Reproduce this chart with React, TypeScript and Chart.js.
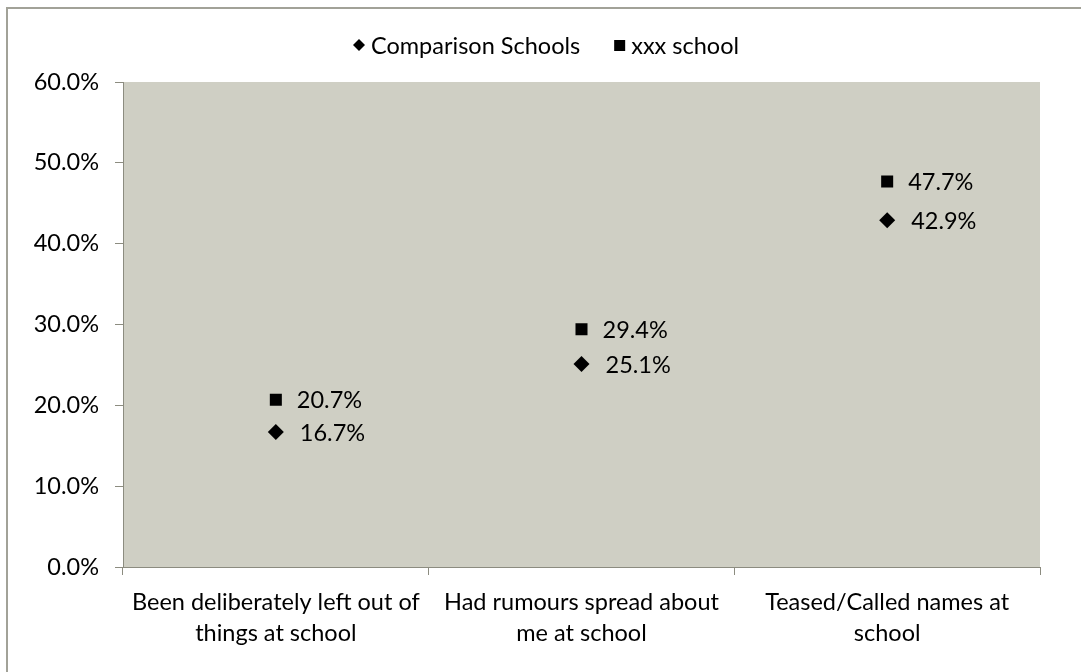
import React, { useEffect, useRef } from "react";
import { Chart, registerables } from "chart.js";

Chart.register(...registerables);

const categories: string[][] = [
  ["Been deliberately left out of", "things at school"],
  ["Had rumours spread about", "me at school"],
  ["Teased/Called names at", "school"],
];
const comparisonSchools: number[] = [16.7, 25.1, 42.9];
const xxxSchool: number[] = [20.7, 29.4, 47.7];
const seriesNames: string[] = ["Comparison Schools", "xxx school"];
const yMin = 0;
const yMax = 60;
const yStep = 10;

const FONT_FAMILY = 'Lato, "Liberation Sans", sans-serif';
const FONT_SIZE = 23.5;
const AXIS_COLOR = "#8c8c80";
const PLOT_BG = "#cfcfc4";

const plotBackground = {
  id: "plotBackground",
  beforeDraw(chart: any) {
    const { ctx, chartArea } = chart;
    ctx.save();
    ctx.fillStyle = PLOT_BG;
    ctx.fillRect(chartArea.left, chartArea.top, chartArea.right - chartArea.left, chartArea.bottom - chartArea.top);
    ctx.restore();
  },
};

const valueLabels = {
  id: "valueLabels",
  afterDatasetsDraw(chart: any) {
    const { ctx } = chart;
    ctx.save();
    ctx.font = `${FONT_SIZE}px ${FONT_FAMILY}`;
    ctx.fillStyle = "#000";
    ctx.textAlign = "left";
    ctx.textBaseline = "middle";
    chart.data.datasets.forEach((ds: any, i: number) => {
      const meta = chart.getDatasetMeta(i);
      const dx = ds.pointStyle === "rectRot" ? 24 : 21;
      meta.data.forEach((el: any, j: number) => {
        const v = ds.data[j] as number;
        ctx.fillText(`${v.toFixed(1)}%`, el.x + dx, el.y + 1);
      });
    });
    ctx.restore();
  },
};

const customLegend = {
  id: "customLegend",
  afterDraw(chart: any) {
    const { ctx } = chart;
    ctx.save();
    ctx.font = `${FONT_SIZE}px ${FONT_FAMILY}`;
    ctx.fillStyle = "#000";
    ctx.textAlign = "left";
    ctx.textBaseline = "middle";
    const y = 45;
    let x = 353;
    chart.data.datasets.forEach((ds: any) => {
      if (ds.pointStyle === "rectRot") {
        ctx.beginPath();
        ctx.moveTo(x, y);
        ctx.lineTo(x + 6, y - 6);
        ctx.lineTo(x + 12, y);
        ctx.lineTo(x + 6, y + 6);
        ctx.closePath();
        ctx.fill();
        x += 18;
      } else {
        ctx.fillRect(x, y - 5, 11, 11);
        x += 17;
      }
      ctx.fillText(ds.label, x, y + 1);
      x += ctx.measureText(ds.label).width + 34;
    });
    ctx.restore();
  },
};

export default function App() {
  const canvasRef = useRef<HTMLCanvasElement | null>(null);

  useEffect(() => {
    if (!canvasRef.current) return;
    const chart = new Chart(canvasRef.current, {
      type: "line",
      data: {
        labels: categories,
        datasets: [
          {
            label: seriesNames[0],
            data: comparisonSchools,
            showLine: false,
            pointStyle: "rectRot",
            pointRadius: 8,
            pointHoverRadius: 8,
            pointBackgroundColor: "#000",
            pointBorderColor: "#000",
            pointBorderWidth: 0,
          },
          {
            label: seriesNames[1],
            data: xxxSchool,
            showLine: false,
            pointStyle: "rect",
            pointRadius: 8.5,
            pointHoverRadius: 8.5,
            pointBackgroundColor: "#000",
            pointBorderColor: "#000",
            pointBorderWidth: 0,
          },
        ],
      },
      options: {
        animation: false,
        responsive: true,
        maintainAspectRatio: false,
        events: [],
        layout: { padding: { left: 0, top: 82, right: 41, bottom: 0 } },
        plugins: {
          legend: { display: false },
          tooltip: { enabled: false },
        },
        scales: {
          x: {
            type: "category",
            offset: true,
            grid: {
              offset: true,
              drawOnChartArea: false,
              drawTicks: true,
              tickLength: 8,
              color: AXIS_COLOR,
            },
            border: { display: true, color: AXIS_COLOR, width: 1 },
            ticks: {
              color: "#000",
              font: { family: FONT_FAMILY, size: FONT_SIZE, lineHeight: 1.32 },
              padding: 12,
              maxRotation: 0,
              minRotation: 0,
              autoSkip: false,
            },
            afterFit(scale: any) {
              scale.height = 105;
            },
          },
          y: {
            min: yMin,
            max: yMax,
            grid: {
              drawOnChartArea: false,
              drawTicks: true,
              tickLength: 8,
              color: AXIS_COLOR,
            },
            border: { display: true, color: AXIS_COLOR, width: 1 },
            ticks: {
              stepSize: yStep,
              color: "#000",
              font: { family: FONT_FAMILY, size: FONT_SIZE },
              padding: 16,
              callback: (v: any) => `${Number(v).toFixed(1)}%`,
            },
            afterFit(scale: any) {
              scale.width = 123;
            },
          },
        },
      },
      plugins: [plotBackground, valueLabels, customLegend],
    });
    return () => chart.destroy();
  }, []);

  return (
    <div style={{ position: "fixed", left: 0, top: 0, width: 1081, height: 672, overflow: "hidden", background: "#fff" }}>
      <div
        style={{
          position: "absolute",
          left: 6,
          top: 7,
          right: 0,
          bottom: 0,
          borderTop: "2px solid #a2a298",
          borderLeft: "2px solid #a2a298",
        }}
      />
      <div style={{ position: "absolute", left: 0, top: 0, width: 1081, height: 672 }}>
        <canvas ref={canvasRef} />
      </div>
    </div>
  );
}
